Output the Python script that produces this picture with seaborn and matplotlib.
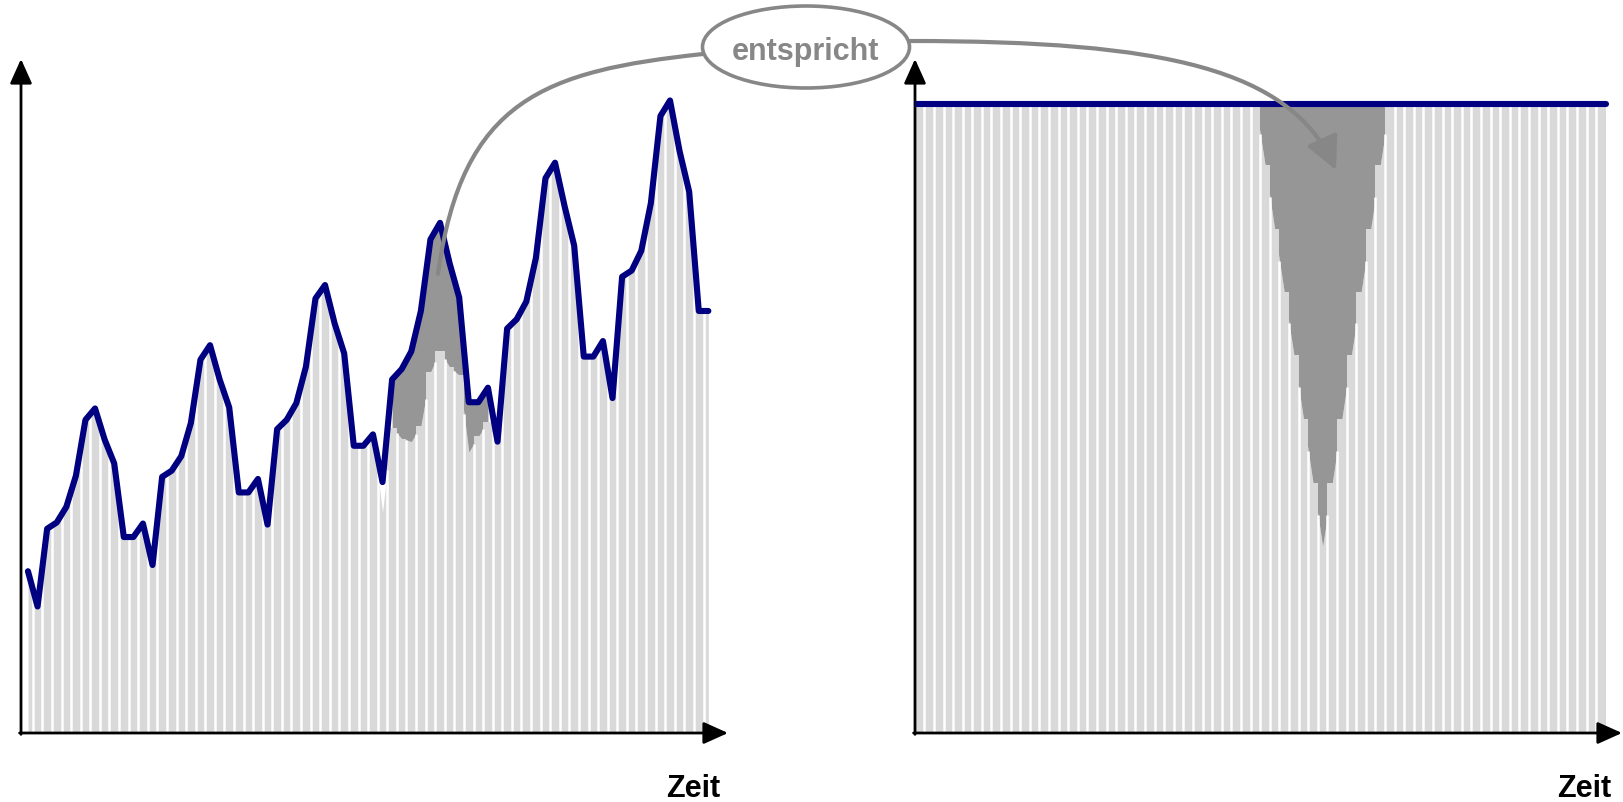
import matplotlib

matplotlib.use("Agg")

import matplotlib.pyplot as plt
import numpy as np
import seaborn as sns
from matplotlib.patches import Ellipse, FancyArrowPatch, PathPatch
from matplotlib.path import Path

# six years of monthly values, height above the time axis
values = [156, 122, 197, 203, 218, 248, 302, 313, 283, 260, 189, 189,
          202, 162, 247, 253, 267, 299, 360, 374, 341, 314, 232, 232,
          245, 201, 293, 302, 318, 353, 419, 432, 395, 366, 277, 277,
          288, 242, 341, 351, 368, 407, 476, 492, 453, 420, 319, 319,
          333, 281, 390, 399, 416, 458, 535, 550, 508, 470, 363, 363,
          378, 323, 440, 446, 465, 511, 595, 610, 561, 522, 407, 407]
months = np.arange(len(values))

# months where the observed bar stays below the line
dip_months = [37, 38, 39, 40, 41, 42, 43, 44, 45, 46, 47, 48]
dip_values = [213, 294, 284, 281, 296, 348, 368, 353, 345, 271, 286, 300]
shaded_months = dip_months[1:]

# right panel: everything stretched to one level
norm_level = 607
funnel_months = [36, 37, 38, 39, 40, 41, 42, 43, 44, 45, 46, 47, 48]
funnel_values = [548, 486, 425, 365, 303, 241, 180, 241, 303, 365, 425, 486, 548]

LIGHT = "#d9d9d9"
DARK = "#969696"
NAVY = "#000080"
ANNOT = "#878787"
W, H = 1624, 803


def fig_xy(px, py):
    return px / W, 1 - py / H


def bar_panel(ax, tops, line, shade, flat):
    x = months.astype(float)
    tops = np.asarray(tops, float)
    line = np.asarray(line, float)
    ax.fill_between(x, 0, tops, color=LIGHT, lw=0, zorder=1)
    where = None if shade is None else np.isin(months, shade)
    ax.fill_between(x, tops, line, where=where, color=DARK, lw=0, zorder=1.5)
    sel = np.isin(months, flat)
    ax.bar(x[sel], tops[sel], width=1.0, color=LIGHT, lw=0, zorder=2)
    gap_top = (tops[:-1] + tops[1:]) / 2
    ax.vlines(x[:-1] + 0.5, 0, gap_top, color="white", lw=1.8, zorder=3)


def axis_arrows(ax):
    style = dict(arrowstyle="-|>,head_length=1.0,head_width=0.45", color="black",
                 lw=2, mutation_scale=15, shrinkA=0, shrinkB=0)
    ax.annotate("", xy=(0, 1), xytext=(0, -0.002), xycoords="axes fraction", arrowprops=style)
    ax.annotate("", xy=(1, 0), xytext=(-0.002, 0), xycoords="axes fraction", arrowprops=style)
    ax.set_axis_off()


sns.set_style("white")
plt.rcParams["font.family"] = ["Liberation Sans", "DejaVu Sans"]

fig = plt.figure(figsize=(W / 100, H / 100), dpi=100)
ax1 = fig.add_axes([21 / W, 69 / H, 707 / W, 674 / H])
ax2 = fig.add_axes([915 / W, 69 / H, 707 / W, 674 / H])

# left: original series with the dip highlighted
observed = np.array(values, float)
observed[dip_months] = dip_values
bar_panel(ax1, observed, values, shaded_months, dip_months)
sns.lineplot(x=months, y=values, ax=ax1, color=NAVY, lw=4.4, zorder=4,
             solid_joinstyle="round", solid_capstyle="round")
ax1.set_xlim(-0.727, 73.05)
ax1.set_ylim(0, 650)
axis_arrows(ax1)

# right: normalised series
stretched = np.full(len(values), norm_level, float)
stretched[funnel_months] = funnel_values
bar_panel(ax2, stretched, np.full(len(values), norm_level), None, months)
ax2.hlines(norm_level, months[0] - 0.5, months[-1] + 0.5, color=NAVY, lw=4.4,
           zorder=4, capstyle="round")
ax2.set_xlim(-0.469, 73.18)
ax2.set_ylim(0, 650)
axis_arrows(ax2)

for px in (720, 1611):
    fig.text(px / W, 1 - 797 / H, "Zeit", ha="right", va="baseline",
             fontsize=22, fontweight="bold", color="black")

# callout
codes = [Path.MOVETO, Path.CURVE4, Path.CURVE4, Path.CURVE4]
left_path = Path([fig_xy(703, 55), fig_xy(545, 72), fig_xy(462, 100), fig_xy(438, 275)], codes)
fig.add_artist(PathPatch(left_path, fill=False, ec=ANNOT, lw=3.0, capstyle="round",
                         transform=fig.transFigure, zorder=5))
right_path = Path([fig_xy(910, 42), fig_xy(1165, 42), fig_xy(1290, 70), fig_xy(1336, 171)], codes)
fig.add_artist(FancyArrowPatch(path=right_path, arrowstyle="-|>,head_length=1.0,head_width=0.5",
                               mutation_scale=20, color=ANNOT, lw=3.0,
                               transform=fig.transFigure, zorder=5))
fig.add_artist(Ellipse(fig_xy(806, 48), 207 / W, 82 / H, transform=fig.transFigure,
                       fc="white", ec=ANNOT, lw=2.6, zorder=6))
fig.text(805 / W, 1 - 60 / H, "entspricht", ha="center", va="baseline", fontsize=22,
         fontweight="bold", color=ANNOT, zorder=7)

fig.savefig("out.png", dpi=100)
